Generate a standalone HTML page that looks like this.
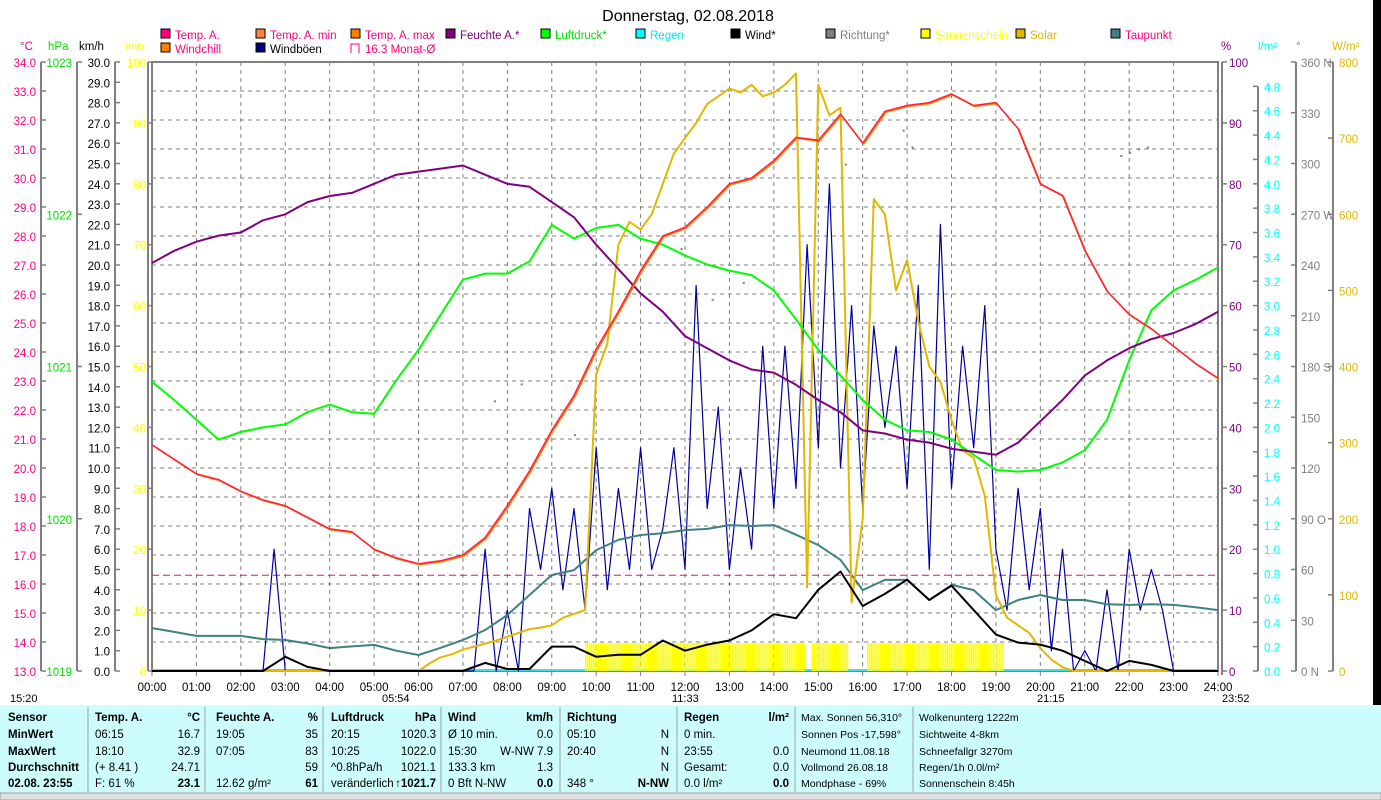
<!DOCTYPE html>
<html><head><meta charset="utf-8"><style>
html,body{margin:0;padding:0;background:#fff;}
svg{display:block;font-family:"Liberation Sans",sans-serif;}
</style></head><body>
<svg id="chart" width="1381" height="800" viewBox="0 0 1381 800" xmlns="http://www.w3.org/2000/svg">
<rect x="1373" y="0" width="8" height="705" fill="#000"/>
<text x="688" y="21" font-size="16" text-anchor="middle">Donnerstag, 02.08.2018</text>
<g id="legend" font-size="12"></g>
<g id="grid"></g>
<g id="axes" font-size="11.5"></g>
<g id="series"></g>
<g id="panel" font-size="11.5"></g>
</svg>
<script>
// ---- data ----
const hours = ["00:00","01:00","02:00","03:00","04:00","05:00","06:00","07:00","08:00","09:00","10:00","11:00","12:00","13:00","14:00","15:00","16:00","17:00","18:00","19:00","20:00","21:00","22:00","23:00","24:00"];
// half-hourly
const tempA = [20.8,20.3,19.8,19.6,19.2,18.9,18.7,18.3,17.9,17.8,17.2,16.9,16.7,16.8,17.0,17.6,18.7,19.9,21.3,22.5,24.1,25.4,26.8,28.0,28.3,29.0,29.8,30.0,30.6,31.4,31.3,32.2,31.2,32.3,32.5,32.6,32.9,32.5,32.6,31.7,29.8,29.4,27.5,26.1,25.3,24.8,24.2,23.6,23.1];
const humidity = [67,69,70.5,71.5,72,74,75,77,78,78.5,80,81.5,82,82.5,83,81.5,80,79.5,77,74.5,70,66,62,59,55,53,51,49.5,49,47,44.5,42.5,39.5,39,38,37.5,36.5,36,35.5,37.5,41,44.5,48.5,51,53,54.5,55.5,57,59];
const pressure = [1020.90,1020.78,1020.65,1020.52,1020.57,1020.60,1020.62,1020.70,1020.75,1020.70,1020.69,1020.91,1021.11,1021.34,1021.57,1021.61,1021.61,1021.69,1021.93,1021.84,1021.91,1021.93,1021.84,1021.80,1021.73,1021.67,1021.63,1021.60,1021.50,1021.31,1021.11,1020.94,1020.78,1020.65,1020.58,1020.57,1020.52,1020.42,1020.32,1020.31,1020.32,1020.37,1020.45,1020.65,1021.04,1021.37,1021.50,1021.57,1021.65];
const dewPoint = [14.48,14.35,14.21,14.21,14.21,14.1,14.07,13.95,13.79,13.85,13.9,13.7,13.55,13.8,14.07,14.41,14.93,15.62,16.31,16.48,17.17,17.52,17.69,17.75,17.86,17.9,18.03,18.0,18.03,17.7,17.34,16.83,15.79,16.14,16.14,15.45,15.97,15.79,15.10,15.45,15.62,15.45,15.45,15.3,15.28,15.3,15.28,15.2,15.10];
const windAvg = [0,0,0,0,0,0, 0.7,0.2, 0,0,0,0,0,0, 0,0.4,0.1,0.1,1.2,1.2,0.7,0.8,0.8,1.5,1.0,1.3,1.5,2.0,2.8,2.6,4.0,4.9,3.2,3.8,4.5,3.5,4.2,3.0,1.8,1.4,1.3,1.0,0.5,0,0.5,0.3,0,0,0];
// quarter-hourly
const windGust = [
0,0,0,0, 0,0,0,0, 0,0,0,6, 0,0,0,0, 0,0,0,0, 0,0,0,0, 0,0,0,0, 0,0,6,0,
3,0,8,5, 9,4,8,3, 11,4,9,5, 11,5,7,11, 5,19,8,13, 5,10,6,16, 8,16,9,21,
11,24,10,18, 8,17,12,16, 9,19,5,22, 9,16,11,18, 6,3,9,4, 8,1,6,0,
1,0,4,0, 6,3,5,3, 0,0,0,0, 0];
const solar = [
0,0,0,0, 0,0,0,0, 0,0,0,0, 0,0,0,0, 0,0,0,0, 0,0,0,0,
0,10,18,22, 28,32,36,40, 45,50,55,57, 60,70,75,80, 390,430,560,590, 580,600,640,680,
700,720,745,755, 765,760,770,755, 760,770,785,110, 770,730,740,90, 200,620,600,500,
540,460,400,380, 330,290,280,230, 100,70,60,50, 30,15,5,0,
0,0,0,0, 0,0,0,0, 0,0,0,0, 0];
const sunStart = [9.75,14.85,16.1];
const sunEnd = [14.68,15.65,19.15];
const sunMinutes = 4.6;
const monthAvg = 16.3;
const dirTimes = [7.7,8.3,9.5,11.9,12.6,13.3,15.6,16.9,17.1,21.8,22.0,22.2,22.4];
const dirValues = [160,170,140,250,220,230,300,320,310,305,307,309,310];

// ---- scales ----
const X0=152,X1=1218,Y0=62,Y1=671;
const xH=h=>X0+h*(X1-X0)/24;
const yT=t=>Y1-(t-13)*(Y1-Y0)/21;
const yP=p=>Y1-(p-1019)*(Y1-Y0)/4;
const yK=v=>Y1-v*(Y1-Y0)/30;
const yPct=v=>Y1-v*(Y1-Y0)/100;
const yL=v=>Y1-v*(Y1-Y0)/5;
const yD=v=>Y1-v*(Y1-Y0)/360;
const yW=v=>Y1-v*(Y1-Y0)/800;
const NS="http://www.w3.org/2000/svg";
function mk(tag,attrs,parent,txt){const e=document.createElementNS(NS,tag);for(const k in attrs)e.setAttribute(k,attrs[k]);if(txt!==undefined)e.textContent=txt;parent.appendChild(e);return e;}

const G=document.getElementById('grid'),A=document.getElementById('axes'),S=document.getElementById('series'),L=document.getElementById('legend'),P=document.getElementById('panel');

for(let i=1;i<24;i++){const l=mk('line',{x1:xH(i),x2:xH(i),y1:Y0,y2:Y1,stroke:'#808080','stroke-dasharray':'4,4'},G);

}
for(let t=14;t<34;t++){const l=mk('line',{x1:X0,x2:X1,y1:yT(t),y2:yT(t),stroke:'#808080','stroke-dasharray':'4,4'},G);

}
const border=mk('rect',{x:X0,y:Y0,width:X1-X0,height:Y1-Y0,fill:'none',stroke:'#808080','stroke-width':2},G);


mk('line',{x1:X1+4,x2:X1+4,y1:Y0,y2:Y1+4,stroke:'#808080','stroke-width':2},G);

function axis(x,vals,yf,fmt,color,labelX,anchor,tickDir,name){
  const ln=mk('line',{x1:x,x2:x,y1:yf(vals[0]),y2:yf(vals[vals.length-1]),stroke:'#808080','stroke-width':2},A);
  
  
  vals.forEach(v=>{const y=yf(v);mk('line',{x1:x,x2:x+tickDir*5,y1:y,y2:y,stroke:'#808080','stroke-width':1.5},A);
    const t=mk('text',{x:labelX,y:y+5,fill:color,'text-anchor':anchor},A,fmt(v));
    
    });
}
const rng=(a,b,s)=>{const r=[];for(let v=a;v<=b+1e-9;v+=s)r.push(+v.toFixed(3));return r;};
axis(41,rng(13,34,1),yT,v=>v.toFixed(1),'#ff0080',36,'end',1,'celsius-axis');
axis(77,[1019,1020,1021,1022,1023],yP,v=>v,'#00e000',72,'end',1,'hpa-axis');
axis(115,rng(0,30,1),yK,v=>v.toFixed(1),'#000',110,'end',1,'kmh-axis');
axis(148,rng(0,100,10),yPct,v=>v,'#ffff00',146,'end',1,'min-axis');
axis(1222,rng(0,100,10),yPct,v=>v,'#800080',1229,'start',1,'percent-axis');
axis(1258,rng(0,4.8,0.2),yL,v=>v.toFixed(1),'#00ffff',1264,'start',-1,'rain-axis');
axis(1296,rng(0,360,30),yD,v=>v+(v===0||v===360?' N':v===90?' O':v===180?' S':v===270?' W':''),'#808080',1301,'start',-1,'direction-axis');
axis(1333,rng(0,800,100),yW,v=>v,'#e0b800',1339,'start',-1,'solar-axis');
[['°C',20,'#ff0080'],['hPa',48,'#00e000'],['km/h',79,'#000'],['min',125,'#ffff00'],['%',1221,'#800080'],['l/m²',1258,'#00ffff'],['°',1296,'#808080'],['W/m²',1332,'#e0b800']].forEach(u=>{
  const t=mk('text',{x:u[1],y:50,fill:u[2]},A,u[0]);
  
  });
hours.forEach((h,i)=>{mk('line',{x1:xH(i),x2:xH(i),y1:Y1,y2:Y1+5,stroke:'#808080'},A);
  const t=mk('text',{x:xH(i),y:691,'text-anchor':'middle'},A,h);
  
  });
[['15:20',10],['05:54',382],['11:33',672],['21:15',1037],['23:52',1222]].forEach(s=>{
  const t=mk('text',{x:s[1],y:702,'font-size':11},A,s[0]);
  
  });

const leg=[['Temp. A.',161,38,'#ff0080','#ff0080'],['Temp. A. min',256,38,'#ff8040','#ff0080'],['Temp. A. max',351,38,'#ff8000','#ff0080'],['Feuchte A.*',446,38,'#800080','#800080'],['Luftdruck*',541,38,'#00ff00','#00e000'],['Regen',636,38,'#00ffff','#00e8e8'],['Wind*',731,38,'#000','#000'],['Richtung*',826,38,'#808080','#808080'],['Sonnenschein',921,38,'#ffff00','#ffff00'],['Solar',1016,38,'#e0b800','#e0b800'],['Taupunkt',1111,38,'#408080','#ff0080'],['Windchill',161,52,'#ff8000','#ff0080'],['Windböen',256,52,'#000080','#000']];
leg.forEach(e=>{const r=mk('rect',{x:e[1],y:e[2]-9,width:9,height:9,fill:e[3],stroke:'#000'},L);
  
  
  const t=mk('text',{x:e[1]+14,y:e[2]+1,fill:e[4],'font-size':11.5},L,e[0]);
  
  });
mk('path',{d:'M351 53 V44 H359 V53',fill:'none',stroke:'#ff0080'},L);
const lm=mk('text',{x:365,y:53,fill:'#ff0080','font-size':11.5},L,'16.3 Monat-Ø');



function line(arr,step,yf,color,w,name,dx,dy){
  const pts=arr.map((v,i)=>(xH(i*step)+(dx||0)).toFixed(1)+','+(yf(v)+(dy||0)).toFixed(1)).join(' ');
  const p=mk('polyline',{points:pts,fill:'none',stroke:color,'stroke-width':w,'stroke-linejoin':'round'},S);
  
  
}
mk('line',{x1:X0,x2:X1,y1:Y1-1,y2:Y1-1,stroke:'#40e0e0','stroke-width':2},S);
sunStart.forEach((s,k)=>{for(let h=s;h<sunEnd[k];h+=1/24){const x=xH(h);
  const b=mk('rect',{x:x,y:yPct(sunMinutes),width:1.5,height:Y1-yPct(sunMinutes),fill:'#ffff00'},S);
  
  }});
const ma=mk('line',{x1:X0,x2:X1,y1:yT(monthAvg),y2:yT(monthAvg),stroke:'#ff0080','stroke-dasharray':'7,4','stroke-width':1},S);


line(windGust,0.25,yK,'#0000a0',1.2,'wind-gust-line');
line(dewPoint,0.5,yT,'#408080',2,'dew-point-line');
line(solar,0.25,yW,'#e0b800',2,'solar-line');
line(pressure,0.5,yP,'#00ff00',2,'pressure-line');
line(humidity,0.5,yPct,'#800080',2,'humidity-line');
line(tempA,0.5,yT,'#ff8000',1.5,'windchill-line',1,1);
line(tempA,0.5,yT,'#ff2040',1.5,'temperature-line');
line(windAvg,0.5,yK,'#000',2,'wind-avg-line');
dirTimes.forEach((t,i)=>{const c=mk('rect',{x:xH(t),y:yD(dirValues[i]),width:2,height:2,fill:'#808080'},S);
  
  });

mk('rect',{x:0,y:705,width:1381,height:90,fill:'#ccfcfc'},P);
mk('rect',{x:0,y:793,width:1381,height:7,fill:'#e0e0e0',stroke:'#a0a0a0'},P);
[88,205,323,441,560,677,795,913].forEach(x=>mk('line',{x1:x,x2:x,y1:707,y2:792,stroke:'#a0a0a0'},P));
const rowsY=[721,738,755,771,787];
const cells=[
[8,'start',['Sensor','MinWert','MaxWert','Durchschnitt','02.08.  23:55'],true],
[95,'start',['Temp. A.','06:15','18:10','(+ 8.41 )','F: 61 %'],false],
[200,'end',['°C','16.7','32.9','24.71','23.1'],false],
[216,'start',['Feuchte A.','19:05','07:05','','12.62 g/m²'],false],
[318,'end',['%','35','83','59','61'],false],
[331,'start',['Luftdruck','20:15','10:25','^0.8hPa/h','veränderlich'],false],
[436,'end',['hPa','1020.3','1022.0','1021.1','↑1021.7'],false],
[448,'start',['Wind','Ø 10 min.','15:30','133.3 km','0 Bft N-NW'],false],
[553,'end',['km/h','0.0','W-NW 7.9','1.3','0.0'],false],
[567,'start',['Richtung','05:10','20:40','','348 °'],false],
[669,'end',['','N','N','N','N-NW'],false],
[684,'start',['Regen','0 min.','  23:55','Gesamt:',' 0.0 l/m²'],false],
[789,'end',['l/m²','','0.0','0.0','0.0'],false],
[801,'start',['Max. Sonnen 56,310°','Sonnen Pos -17,598°','Neumond   11.08.18','Vollmond   26.08.18','Mondphase    - 69%'],false],
[919,'start',['Wolkenunterg 1222m','Sichtweite     4-8km','Schneefallgr  3270m','Regen/1h    0.0l/m²','Sonnenschein  8:45h'],false]];
cells.forEach(c=>{c[2].forEach((s,i)=>{const bold=c[3]||i===0&&c[0]<800||(i===4&&c[1]==='end');
  const attrs={x:c[0],y:rowsY[i],'text-anchor':c[1],'font-weight':bold?'bold':'normal','xml:space':'preserve'};
  if(c[0]>=800){attrs['font-size']=10.5;}
  const t=mk('text',attrs,P,s);
  
  });});
</script>
</body></html>
